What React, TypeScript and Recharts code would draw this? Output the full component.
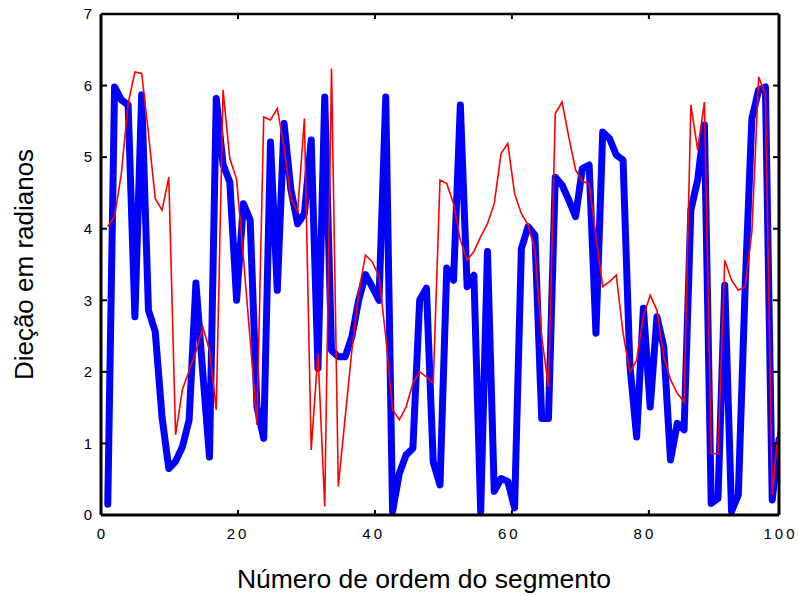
import { ComposedChart, Label, Line, XAxis, YAxis } from "recharts";

// direction (radians) per segment
const blueValues = [
  0.15, 5.98, 5.8, 5.73, 2.77, 5.87, 2.86, 2.56, 1.37, 0.65,
  0.75, 0.95, 1.33, 3.24, 2.0, 0.81, 5.82, 4.9, 4.65, 3.0,
  4.35, 4.12, 1.51, 1.07, 5.21, 3.14, 5.47, 4.55, 4.07, 4.21,
  5.24, 2.05, 5.84, 2.3, 2.21, 2.21, 2.49, 3.0, 3.36, 3.19,
  3.0, 5.84, 0.05, 0.58, 0.84, 0.93, 3.0, 3.17, 0.74, 0.42,
  3.45, 3.28, 5.73, 3.19, 3.35, 0.05, 3.68, 0.33, 0.51, 0.47,
  0.1, 3.72, 4.03, 3.91, 1.35, 1.35, 4.72, 4.61, 4.4, 4.17,
  4.84, 4.89, 2.54, 5.35, 5.26, 5.03, 4.96, 2.1, 1.09, 2.89,
  1.51, 2.77, 2.35, 0.77, 1.28, 1.19, 4.26, 4.68, 5.45, 0.16,
  0.23, 3.21, 0.05, 0.28, 3.17, 5.54, 5.94, 5.98, 0.21, 1.05,
];

const redValues = [
  4.03, 4.17, 4.77, 5.75, 6.19, 6.17, 5.33, 4.42, 4.26, 4.72,
  1.12, 1.75, 2.02, 2.28, 2.63, 2.3, 1.47, 5.94, 4.98, 4.69,
  3.6, 2.45, 1.26, 5.56, 5.52, 5.68, 5.14, 4.42, 4.24, 5.54,
  0.91, 2.26, 0.12, 6.24, 0.4, 1.35, 2.3, 3.1, 3.63, 3.54,
  3.33, 2.49, 1.47, 1.33, 1.51, 1.84, 2.0, 1.93, 1.84, 4.68,
  4.63, 4.35, 3.84, 3.56, 3.68, 3.89, 4.07, 4.35, 5.05, 5.19,
  4.49, 4.21, 4.05, 3.7, 2.49, 1.79, 5.61, 5.77, 5.28, 4.82,
  4.66, 4.63, 3.89, 3.19, 3.26, 3.35, 2.54, 2.0, 2.16, 2.78,
  3.07, 2.86, 2.21, 1.89, 1.7, 1.58, 5.73, 5.1, 5.77, 0.86,
  0.86, 3.56, 3.28, 3.14, 3.19, 3.96, 6.12, 5.87, 0.28, 1.28,
];

const xTicks = [0, 20, 40, 60, 80, 100];
const xInnerTicks = [20, 40, 60, 80];
const yTicks = [0, 1, 2, 3, 4, 5, 6, 7];
const yInnerTicks = [1, 2, 3, 4, 5, 6];

const data = blueValues.map((v, i) => ({
  segment: i + 1,
  blue: v,
  red: redValues[i],
}));

const font = "'Liberation Sans', Arial, sans-serif";
const noLabel = () => <g />;

export default function App() {
  return (
    <div style={{ position: "absolute", left: 0, top: 0, background: "#fff" }}>
      <ComposedChart
        width={798}
        height={596}
        data={data}
        margin={{ top: 14, right: 19, left: 0, bottom: 0 }}
      >
        <XAxis
          xAxisId="b"
          dataKey="segment"
          type="number"
          domain={[0, 100]}
          ticks={xTicks}
          allowDataOverflow
          height={81}
          tickSize={0}
          tickMargin={13}
          tickLine={false}
          axisLine={{ stroke: "#000", strokeWidth: 3 }}
          tick={{ fill: "#000", fontSize: 15, fontFamily: font, letterSpacing: 3, dx: 1.5 }}
        >
          <Label
            content={({ viewBox }: any) => (
              <text
                x={viewBox.x + viewBox.width / 2 - 16}
                y={viewBox.y + 73}
                textAnchor="middle"
                fill="#000"
                fontSize={26.5}
                fontFamily={font}
              >
                Número de ordem do segmento
              </text>
            )}
          />
        </XAxis>
        <XAxis
          xAxisId="bIn"
          orientation="bottom"
          mirror
          type="number"
          domain={[0, 100]}
          ticks={xInnerTicks}
          allowDataOverflow
          tick={noLabel}
          tickSize={5}
          axisLine={false}
          tickLine={{ stroke: "#000", strokeWidth: 2 }}
        />
        <XAxis
          xAxisId="t"
          orientation="top"
          mirror
          type="number"
          domain={[0, 100]}
          ticks={xInnerTicks}
          allowDataOverflow
          tick={noLabel}
          tickSize={5}
          axisLine={{ stroke: "#000", strokeWidth: 2.5 }}
          tickLine={{ stroke: "#000", strokeWidth: 2 }}
        />
        <YAxis
          yAxisId="l"
          type="number"
          domain={[0, 7]}
          ticks={yTicks}
          allowDataOverflow
          width={101}
          tickSize={0}
          tickMargin={9}
          tickLine={false}
          axisLine={{ stroke: "#000", strokeWidth: 3 }}
          tick={{ fill: "#000", fontSize: 15, fontFamily: font }}
        >
          <Label
            content={({ viewBox }: any) => {
              const cx = viewBox.x + 24;
              const cy = viewBox.y + viewBox.height / 2;
              return (
                <text
                  x={cx}
                  y={cy}
                  transform={`rotate(-90, ${cx}, ${cy})`}
                  textAnchor="middle"
                  dominantBaseline="central"
                  fill="#000"
                  fontSize={26}
                  fontFamily={font}
                >
                  Dieção em radianos
                </text>
              );
            }}
          />
        </YAxis>
        <YAxis
          yAxisId="lIn"
          orientation="left"
          mirror
          type="number"
          domain={[0, 7]}
          ticks={yInnerTicks}
          allowDataOverflow
          tick={noLabel}
          tickSize={6}
          axisLine={false}
          tickLine={{ stroke: "#000", strokeWidth: 2 }}
        />
        <YAxis
          yAxisId="r"
          orientation="right"
          mirror
          type="number"
          domain={[0, 7]}
          ticks={yInnerTicks}
          allowDataOverflow
          tick={noLabel}
          tickSize={6}
          axisLine={{ stroke: "#000", strokeWidth: 3 }}
          tickLine={{ stroke: "#000", strokeWidth: 2 }}
        />
        <Line
          xAxisId="b"
          yAxisId="l"
          type="linear"
          dataKey="blue"
          stroke="#0000ff"
          strokeWidth={7}
          strokeLinejoin="round"
          strokeLinecap="round"
          dot={false}
          isAnimationActive={false}
        />
        <Line
          xAxisId="b"
          yAxisId="l"
          type="linear"
          dataKey="red"
          stroke="#ff0000"
          strokeWidth={1.6}
          dot={false}
          isAnimationActive={false}
        />
      </ComposedChart>
    </div>
  );
}
